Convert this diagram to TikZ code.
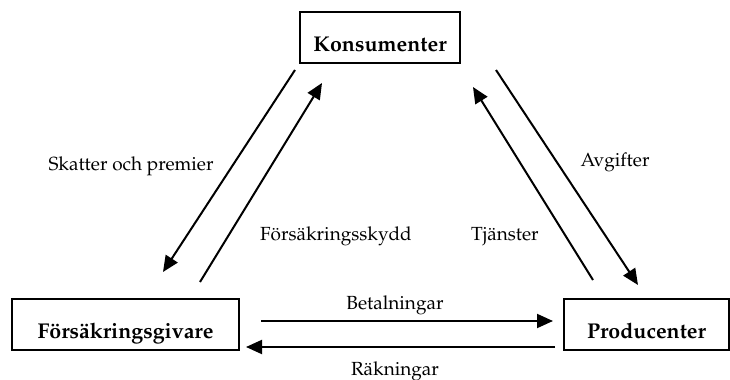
\documentclass[tikz,border=0pt]{standalone}
\usepackage[T1]{fontenc}
\usepackage{mathpazo}
\usetikzlibrary{arrows.meta}

\begin{document}
\begin{tikzpicture}
[x=0.5pt,y=-0.5pt,line width=1pt,%
  box/.style={draw,rectangle,inner sep=0pt,anchor=north west,%
    font=\fontsize{10.7}{12}\selectfont\bfseries,text height=19.5pt,text depth=6pt},%
  flow/.style={-{Triangle[length=8pt,width=7pt]}},%
  lbl/.style={anchor=base,inner sep=0pt}]
\fontsize{9.5}{11}\selectfont
\useasboundingbox (0,0) rectangle (730,380);
% boxes
\node[box,minimum width=80pt] (kons) at (299,11) {Konsumenter};
\node[box,minimum width=113.5pt] (fgiv) at (11,298) {Försäkringsgivare};
\node[box,minimum width=82.5pt] (prod) at (563,298) {Producenter};
% arrow ends
\coordinate (skatt0) at (295,70);
\coordinate (skatt1) at (163,272);
\coordinate (skydd0) at (200,282);
\coordinate (skydd1) at (322,83);
\coordinate (avg0) at (496,70);
\coordinate (avg1) at (638,285);
\coordinate (tj0) at (593,280);
\coordinate (tj1) at (473,87);
\coordinate (bet0) at (261,321);
\coordinate (bet1) at (553,321);
\coordinate (rak0) at (555,347);
\coordinate (rak1) at (246,347);
% flows
\draw[flow] (skatt0) -- (skatt1);
\draw[flow] (skydd0) -- (skydd1);
\draw[flow] (avg0) -- (avg1);
\draw[flow] (tj0) -- (tj1);
\draw[flow] (bet0) -- (bet1);
\draw[flow] (rak0) -- (rak1);
% labels
\node[lbl] (lskatt) at (131,170) {Skatter och premier};
\node[lbl] (lskydd) at (336,240) {Försäkringsskydd};
\node[lbl] (lavg) at (615,166) {Avgifter};
\node[lbl] (ltj) at (505,240) {Tjänster};
\node[lbl] (lbet) at (395,309) {Betalningar};
\node[lbl] (lrak) at (395,375) {Räkningar};
\end{tikzpicture}
\end{document}
